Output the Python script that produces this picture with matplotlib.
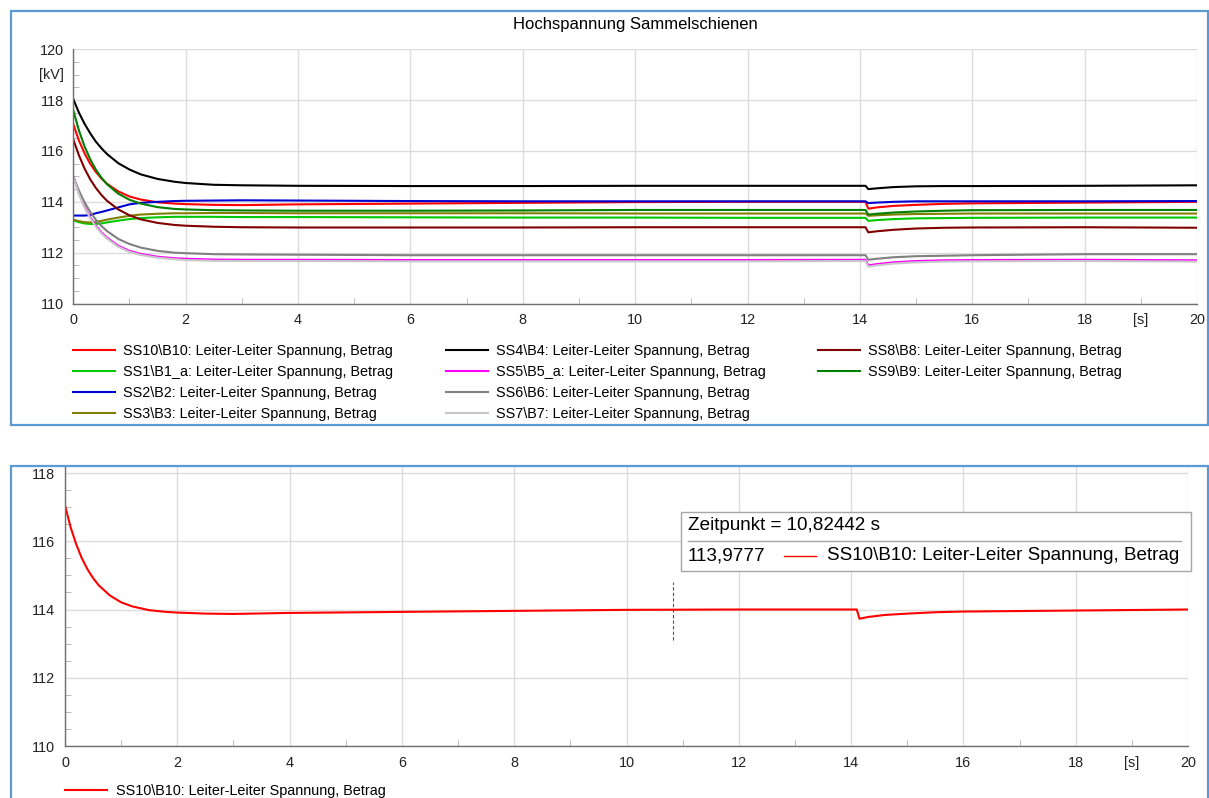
import matplotlib
matplotlib.use("Agg")
import numpy as np
import matplotlib.pyplot as plt
from matplotlib.patches import Rectangle
from matplotlib.lines import Line2D

plt.rcParams['font.family'] = ['Liberation Sans', 'DejaVu Sans']

W, H = 1209, 798
TITLE = "Hochspannung Sammelschienen"
SUFFIX = ": Leiter-Leiter Spannung, Betrag"

# sample times [s] [kV]
T = [0, 0.1, 0.2, 0.3, 0.4, 0.5, 0.6, 0.8, 1.0, 1.2, 1.5, 1.8, 2.0, 2.5, 3.0,
     4, 6, 8, 10, 12, 14.1, 14.15, 14.3, 14.6, 15, 15.5, 16, 18, 20]

SS10 = [117.05, 116.41, 115.91, 115.50, 115.18, 114.92, 114.71, 114.41, 114.21, 114.09,
        113.98, 113.93, 113.91, 113.88, 113.87, 113.90, 113.93, 113.96, 113.99, 114.00,
        114.00, 113.73, 113.78, 113.84, 113.88, 113.92, 113.94, 113.97, 114.00]
SS1 = [113.27, 113.20, 113.15, 113.13, 113.13, 113.15, 113.19, 113.26, 113.32, 113.36,
       113.39, 113.41, 113.41, 113.41, 113.40, 113.40, 113.39, 113.38, 113.38, 113.37,
       113.37, 113.25, 113.28, 113.32, 113.35, 113.36, 113.37, 113.38, 113.38]
SS2 = [113.46, 113.46, 113.46, 113.48, 113.55, 113.60, 113.66, 113.78, 113.90, 113.96,
       114.00, 114.03, 114.04, 114.05, 114.06, 114.05, 114.03, 114.02, 114.02, 114.02,
       114.02, 113.95, 113.97, 114.00, 114.02, 114.02, 114.02, 114.02, 114.03]
SS3 = [113.30, 113.24, 113.20, 113.19, 113.21, 113.25, 113.30, 113.38, 113.45, 113.50,
       113.53, 113.55, 113.55, 113.56, 113.56, 113.55, 113.55, 113.55, 113.54, 113.54,
       113.54, 113.45, 113.47, 113.50, 113.52, 113.53, 113.54, 113.54, 113.54]
SS4 = [118.04, 117.51, 117.07, 116.70, 116.37, 116.11, 115.88, 115.52, 115.27, 115.08,
       114.90, 114.79, 114.74, 114.67, 114.65, 114.63, 114.62, 114.62, 114.63, 114.63,
       114.63, 114.50, 114.53, 114.58, 114.61, 114.62, 114.62, 114.63, 114.65]
SS5 = [115.00, 114.34, 113.82, 113.40, 113.07, 112.80, 112.59, 112.27, 112.07, 111.95,
       111.84, 111.78, 111.76, 111.73, 111.72, 111.72, 111.71, 111.71, 111.71, 111.71,
       111.72, 111.50, 111.55, 111.62, 111.67, 111.70, 111.71, 111.72, 111.70]
SS6 = [115.00, 114.44, 113.98, 113.61, 113.30, 113.05, 112.85, 112.54, 112.34, 112.20,
       112.07, 112.00, 111.98, 111.94, 111.93, 111.92, 111.90, 111.90, 111.90, 111.90,
       111.90, 111.72, 111.76, 111.82, 111.86, 111.88, 111.90, 111.94, 111.94]
SS7 = [114.98, 114.30, 113.78, 113.36, 113.03, 112.76, 112.55, 112.23, 112.03, 111.91,
       111.80, 111.74, 111.71, 111.68, 111.67, 111.67, 111.66, 111.66, 111.66, 111.66,
       111.67, 111.45, 111.50, 111.57, 111.62, 111.65, 111.66, 111.67, 111.65]
SS8 = [116.45, 115.83, 115.31, 114.89, 114.55, 114.27, 114.04, 113.70, 113.47, 113.31,
       113.17, 113.09, 113.06, 113.02, 113.00, 112.99, 112.99, 112.99, 113.00, 113.00,
       113.00, 112.80, 112.84, 112.90, 112.95, 112.98, 112.99, 113.00, 112.98]
SS9 = [117.60, 116.81, 116.18, 115.68, 115.27, 114.95, 114.69, 114.32, 114.08, 113.93,
       113.79, 113.72, 113.70, 113.67, 113.66, 113.65, 113.65, 113.66, 113.68, 113.68,
       113.68, 113.50, 113.53, 113.58, 113.62, 113.65, 113.67, 113.68, 113.68]

NAMES = ["SS10\\B10", "SS1\\B1_a", "SS2\\B2", "SS3\\B3", "SS4\\B4",
         "SS5\\B5_a", "SS6\\B6", "SS7\\B7", "SS8\\B8", "SS9\\B9"]
VALUES = [SS10, SS1, SS2, SS3, SS4, SS5, SS6, SS7, SS8, SS9]
COLORS = ["#ff0000", "#00c800", "#0000d0", "#808000", "#000000",
          "#ff00ff", "#808080", "#c8c8c8", "#800000", "#008000"]
LEGEND_COLS = [[0, 1, 2, 3], [4, 5, 6, 7], [8, 9]]

# cursor readout in the lower chart
CURSOR_T = 10.82442
CURSOR_V = 113.9777
CURSOR_SPAN = (113.1, 114.8)

BORDER = "#5b9bd5"
GRID = "#dcdcdc"
SPINE = "#6e6e6e"
FS = 10.4


def style_axes(ax, ytop, ymajor_top):
    ax.set_xlim(0, 20)
    ax.set_ylim(110, ytop)
    ax.set_xticks(range(0, 21, 2))
    ax.set_xticks(range(1, 20, 2), minor=True)
    ax.set_yticks(range(110, ymajor_top + 1, 2))
    ax.set_yticks(np.arange(110.5, ytop, 0.5), minor=True)
    ax.grid(True, which='major', color=GRID, lw=1)
    ax.set_axisbelow(True)
    for s in ('top', 'right'):
        ax.spines[s].set_visible(False)
    for s in ('left', 'bottom'):
        ax.spines[s].set_color(SPINE)
        ax.spines[s].set_linewidth(1)
    ax.tick_params(which='major', length=0, labelsize=FS, pad=7, colors='#222222')
    ax.tick_params(which='minor', direction='in', length=4.5, color='#b0b0b0')
    ax.annotate("[s]", xy=(19, 0), xycoords=('data', 'axes fraction'),
                xytext=(0, -7), textcoords='offset points',
                ha='center', va='top', fontsize=FS, color='#222222')


fig = plt.figure(figsize=(W / 100, H / 100), dpi=100)

# panel frames
fig.patches.append(Rectangle((10.5 / W, 1 - 425 / H), (1207.5 - 10.5) / W, (425 - 11) / H,
                             transform=fig.transFigure, fill=False, ec=BORDER, lw=1.6))
fig.patches.append(Rectangle((10.5 / W, -0.05), (1207.5 - 10.5) / W, 1.05 - 466 / H,
                             transform=fig.transFigure, fill=False, ec=BORDER, lw=1.6))

# upper chart
ax1 = fig.add_axes([73.3 / W, 1 - 303.5 / H, (1197 - 73.3) / W, (303.5 - 49.3) / H])
style_axes(ax1, 120, 120)
lines = []
for name, vals, col in zip(NAMES, VALUES, COLORS):
    ln, = ax1.plot(T, vals, color=col, lw=1.5, label=name + SUFFIX)
    lines.append(ln)
ax1.annotate("[kV]", xy=(0, 119), xycoords=('axes fraction', 'data'),
             xytext=(-7, 0), textcoords='offset points',
             ha='right', va='center', fontsize=FS, color='#222222')
fig.text(635 / W, 1 - 24 / H, TITLE, ha='center', va='center', fontsize=12)

col_x = [73 / W, 446 / W, 818 / W]
for cx, idx in zip(col_x, LEGEND_COLS):
    fig.legend([lines[i] for i in idx], [lines[i].get_label() for i in idx],
               loc='upper left', bbox_to_anchor=(cx, 1 - 344 / H), frameon=False,
               borderpad=0, borderaxespad=0, handlelength=2.9, handletextpad=0.55,
               labelspacing=0.48, fontsize=FS)

# lower chart
ax2 = fig.add_axes([65 / W, 1 - 746 / H, (1188 - 65) / W, (746 - 467) / H])
style_axes(ax2, 118.176, 118)
red, = ax2.plot(T, SS10, color=COLORS[0], lw=1.5, label=NAMES[0] + SUFFIX)
ax2.vlines(CURSOR_T, *CURSOR_SPAN, colors='#555555', linestyles=(0, (3, 2)), lw=0.8)
fig.legend([red], [red.get_label()], loc='upper left', bbox_to_anchor=(65 / W, 1 - 784 / H),
           frameon=False, borderpad=0, borderaxespad=0, handlelength=2.9,
           handletextpad=0.6, fontsize=FS)

# cursor tooltip
fig.patches.append(Rectangle((681 / W, 1 - 571 / H), (1191 - 681) / W, (571 - 512) / H,
                             transform=fig.transFigure, fc='white', ec='#a6a6a6', lw=1))
fig.lines.append(Line2D([688 / W, 1181 / W], [1 - 541 / H] * 2, transform=fig.transFigure,
                        color='#a6a6a6', lw=1))
t_txt = f"{CURSOR_T:.5f}".replace('.', ',')
v_txt = f"{CURSOR_V:.4f}".replace('.', ',')
fig.text(688 / W, 1 - 526 / H, f"Zeitpunkt = {t_txt} s", ha='left', va='center', fontsize=13.6)
fig.text(688 / W, 1 - 556 / H, v_txt, ha='left', va='center', fontsize=13.6)
fig.lines.append(Line2D([784 / W, 816 / W], [1 - 556 / H] * 2, transform=fig.transFigure,
                        color=COLORS[0], lw=1))
fig.text(827 / W, 1 - 556 / H, NAMES[0] + SUFFIX, ha='left', va='center', fontsize=13.6)

fig.savefig("out.png", dpi=100)
